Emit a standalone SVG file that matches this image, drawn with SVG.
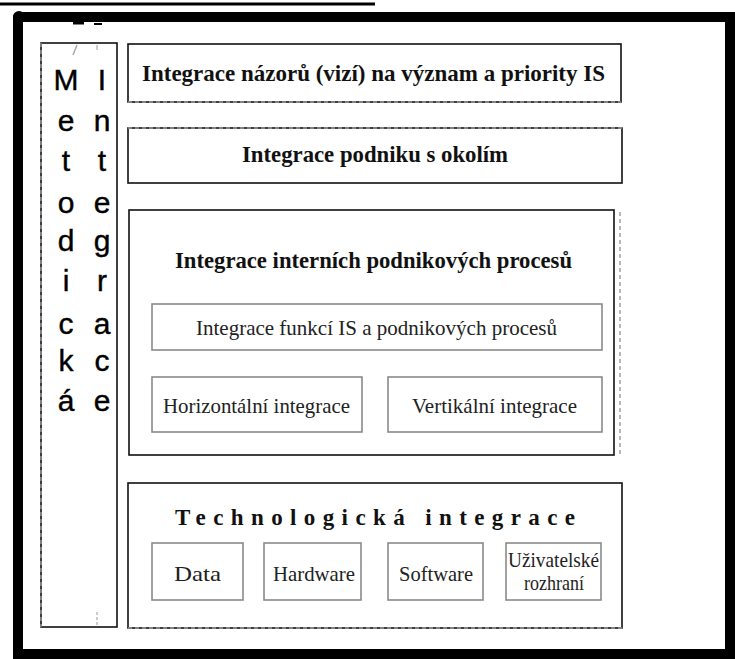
<svg xmlns="http://www.w3.org/2000/svg" width="735" height="659" viewBox="0 0 735 659">
<style>
.frame{fill:none;stroke:#000;stroke-width:10;stroke-linecap:round}
.outer{fill:#fff;stroke:#111;stroke-width:1.6}
.dash{fill:none;stroke:#999;stroke-width:1.4;stroke-dasharray:4 3}
.inner{fill:#fff;stroke:#8a8a8a;stroke-width:1.6}
.big{font-family:"Liberation Serif","DejaVu Serif",serif;font-weight:bold;font-size:23px;fill:#111}
.reg{font-family:"Liberation Serif","DejaVu Serif",serif;font-size:22px;fill:#222}
.side{font-family:"Liberation Sans",Arial,sans-serif;font-size:30px;fill:#000;text-anchor:middle;stroke:#000;stroke-width:0.4}
</style>
<rect width="735" height="659" fill="#fff"/>
<line x1="0" y1="4" x2="375" y2="4" stroke="#000" stroke-width="3"/>
<g id="frame">
<path class="frame" d="M18 17 H730 V659 M18 17 V654 H735"/>
<circle cx="19" cy="17" r="6" fill="#000"/>
<line x1="73" y1="23" x2="84" y2="23" stroke="#000" stroke-width="3"/>
<line x1="94" y1="24" x2="102" y2="24" stroke="#000" stroke-width="2"/>
</g>
<g id="metodicka">
<rect class="outer" x="41" y="43" width="76" height="584"/>
<line class="dash" x1="41" y1="43" x2="41" y2="627"/>
<line x1="77" y1="45" x2="73" y2="55" stroke="#aaa" stroke-width="1.5"/>
<line x1="97" y1="45" x2="97" y2="50" stroke="#bbb" stroke-width="1.5"/>
<line x1="97" y1="612" x2="97" y2="625" stroke="#bbb" stroke-width="1.5" stroke-dasharray="3 2"/>
<g class="side">
<text x="66" y="90">M</text><text x="66" y="131">e</text><text x="66" y="171">t</text><text x="66" y="213">o</text><text x="66" y="251">d</text><text x="66" y="291">i</text><text x="66" y="334">c</text><text x="66" y="371">k</text><text x="66" y="411">á</text>
<text x="102" y="90">I</text><text x="102" y="131">n</text><text x="102" y="171">t</text><text x="102" y="213">e</text><text x="102" y="251">g</text><text x="102" y="291">r</text><text x="102" y="334">a</text><text x="102" y="371">c</text><text x="102" y="411">e</text>
</g>
</g>
<g id="nazory">
<rect class="outer" x="128" y="44" width="493" height="58"/>
<line class="dash" x1="128" y1="102" x2="621" y2="102"/>
<text class="big" x="142" y="81" textLength="463" lengthAdjust="spacingAndGlyphs">Integrace názorů (vizí) na význam a priority IS</text>
</g>
<g id="okoli">
<rect class="outer" x="128" y="128" width="494" height="55"/>
<line class="dash" x1="128" y1="128" x2="622" y2="128"/>
<text class="big" x="242" y="162" textLength="266" lengthAdjust="spacingAndGlyphs">Integrace podniku s okolím</text>
</g>
<g id="interni">
<rect class="outer" x="129" y="210" width="485" height="245"/>
<line class="dash" x1="620" y1="212" x2="620" y2="455"/>
<text class="big" x="175" y="268" textLength="397" lengthAdjust="spacingAndGlyphs">Integrace interních podnikových procesů</text>
</g>
<g id="funkci">
<rect class="inner" x="152" y="304" width="450" height="46"/>
<text class="reg" x="196" y="335" textLength="361" lengthAdjust="spacingAndGlyphs">Integrace funkcí IS a podnikových procesů</text>
</g>
<g id="horizontalni">
<rect class="inner" x="152" y="377" width="210" height="55"/>
<text class="reg" x="163" y="413" textLength="187" lengthAdjust="spacingAndGlyphs">Horizontální integrace</text>
</g>
<g id="vertikalni">
<rect class="inner" x="388" y="377" width="214" height="55"/>
<text class="reg" x="412" y="413" textLength="165" lengthAdjust="spacingAndGlyphs">Vertikální integrace</text>
</g>
<g id="technologicka">
<rect class="outer" x="128" y="483" width="494" height="145"/>
<line class="dash" x1="128" y1="628" x2="622" y2="628"/>
<text class="big" x="175" y="525" textLength="400" lengthAdjust="spacing">Technologická integrace</text>
</g>
<g id="data">
<rect class="inner" x="152" y="543" width="91" height="57"/>
<text class="reg" x="174" y="581" textLength="47" lengthAdjust="spacingAndGlyphs">Data</text>
</g>
<g id="hardware">
<rect class="inner" x="264" y="543" width="97" height="57"/>
<text class="reg" x="273" y="581" textLength="82" lengthAdjust="spacingAndGlyphs">Hardware</text>
</g>
<g id="software">
<rect class="inner" x="388" y="543" width="95" height="57"/>
<text class="reg" x="399" y="581" textLength="74" lengthAdjust="spacingAndGlyphs">Software</text>
</g>
<g id="uzivatelske">
<rect class="inner" x="506" y="543" width="95" height="57"/>
<text class="reg" x="508" y="567" textLength="91" lengthAdjust="spacingAndGlyphs" font-size="19">Uživatelské</text>
<text class="reg" x="524" y="590" textLength="60" lengthAdjust="spacingAndGlyphs" font-size="19">rozhraní</text>
</g>
<g id="connectors"/>
</svg>
